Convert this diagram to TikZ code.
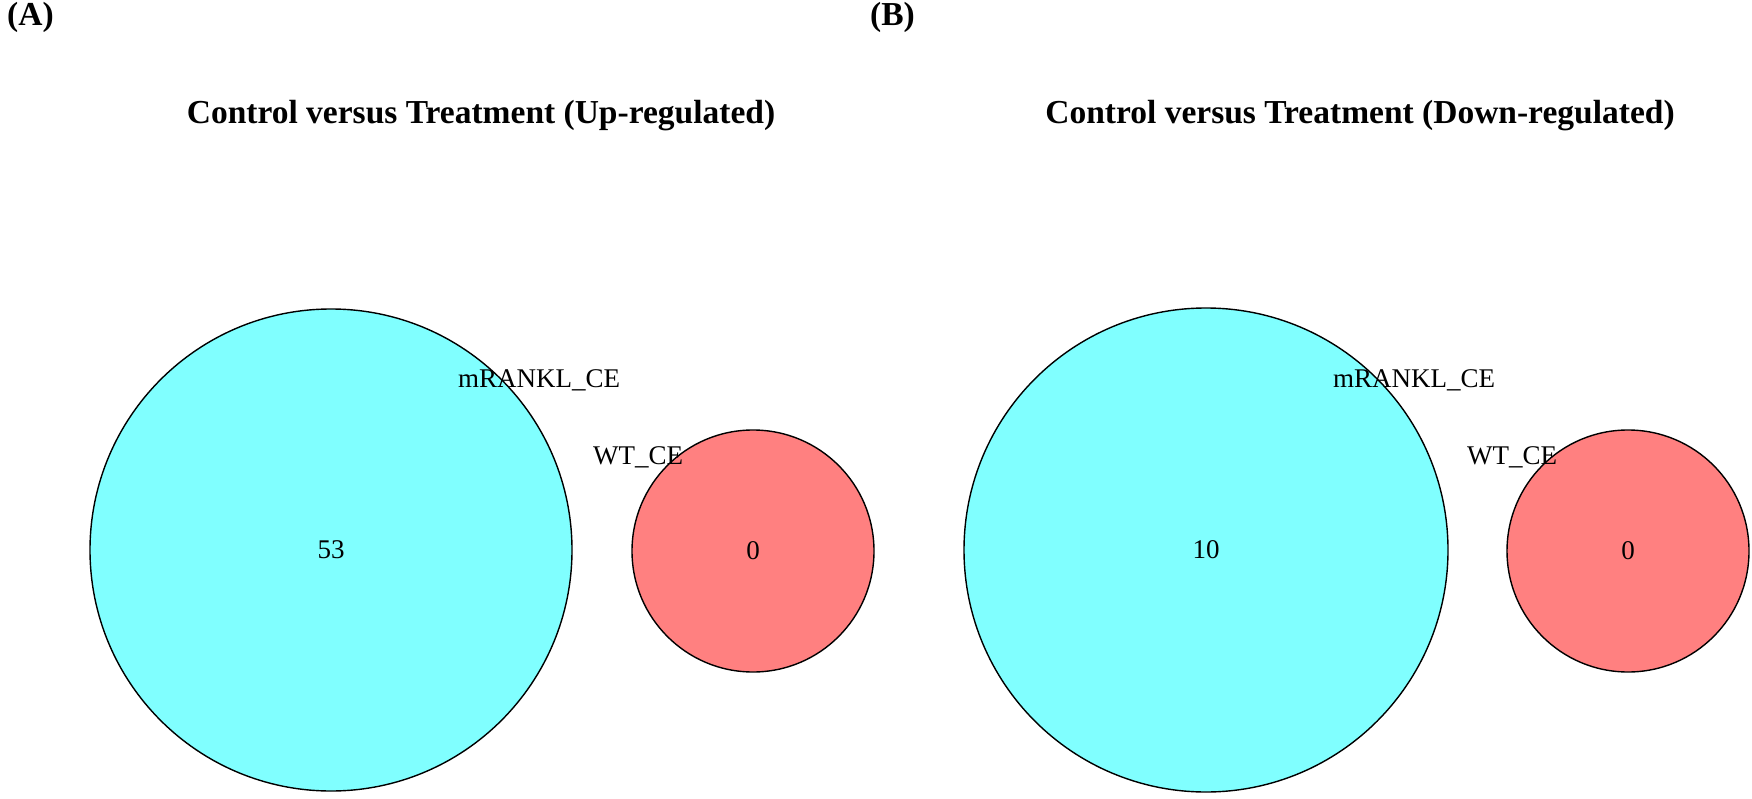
\documentclass[tikz,border=0pt]{standalone}
\usepackage{fontspec}
\setmainfont{Liberation Serif}
\definecolor{vcyan}{RGB}{128,255,255}
\definecolor{vred}{RGB}{255,128,128}
\begin{document}
\begin{tikzpicture}[x=1pt,y=-1pt,
  setcircle/.style={circle, draw=black, line width=1.4pt, inner sep=0pt},
  headtxt/.style={inner sep=0pt, font=\fontsize{33.5}{40}\selectfont\bfseries},
  lbltxt/.style={inner sep=0pt, font=\fontsize{27}{32}\selectfont},
]
\useasboundingbox (0,0) rectangle (1752,799);
% Panel A
\node[headtxt, anchor=base west] (labA) at (7,26) {(A)};
\node[headtxt, anchor=base] (titA) at (481,124) {Control versus Treatment (Up-regulated)};
\node[setcircle, fill=vcyan, minimum size=482pt] (bigA) at (331,550) {};
\node[setcircle, fill=vred, minimum size=242pt] (smallA) at (753,551) {};
\node[lbltxt] (numbigA) at (bigA.center) {53};
\node[lbltxt] (numsmallA) at (smallA.center) {0};
\node[lbltxt, anchor=base west] (nameA1) at (458,387) {mRANKL\_CE};
\node[lbltxt, anchor=base west] (nameA2) at (593,464) {WT\_CE};
% Panel B
\node[headtxt, anchor=base west] (labB) at (870,26) {(B)};
\node[headtxt, anchor=base] (titB) at (1360,124) {Control versus Treatment (Down-regulated)};
\node[setcircle, fill=vcyan, minimum size=484pt] (bigB) at (1206,550) {};
\node[setcircle, fill=vred, minimum size=242pt] (smallB) at (1628,551) {};
\node[lbltxt] (numbigB) at (bigB.center) {10};
\node[lbltxt] (numsmallB) at (smallB.center) {0};
\node[lbltxt, anchor=base west] (nameB1) at (1333,387) {mRANKL\_CE};
\node[lbltxt, anchor=base west] (nameB2) at (1467,464) {WT\_CE};
\end{tikzpicture}
\end{document}
